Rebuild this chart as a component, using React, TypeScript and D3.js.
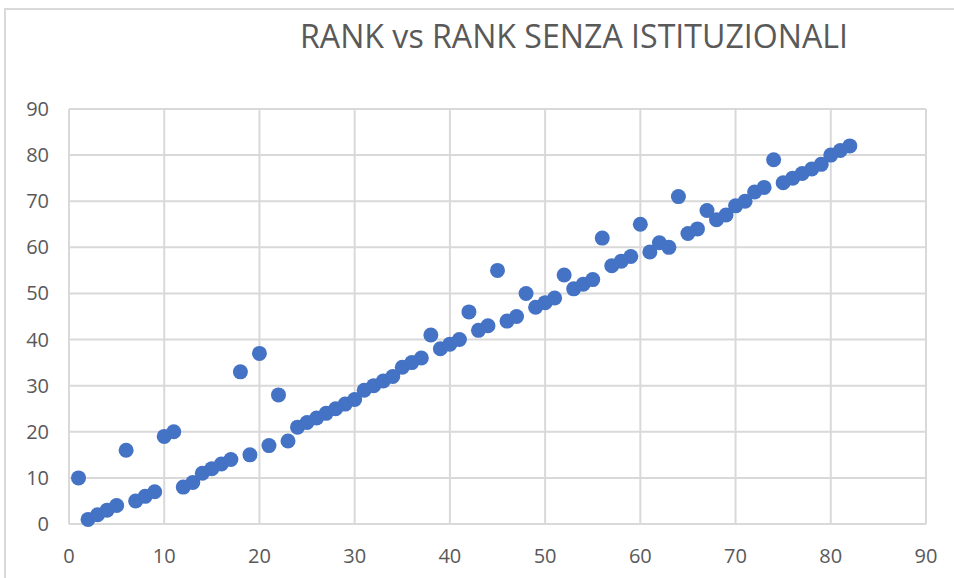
import { useEffect, useRef } from "react"
import * as d3 from "d3"

const title = "RANK vs RANK SENZA ISTITUZIONALI"

// rank (x) vs rank senza istituzionali (y)
const rankValues = [
    1, 2, 3, 4, 5, 6, 7, 8, 9, 10,
    11, 12, 13, 14, 15, 16, 17, 18, 19, 20,
    21, 22, 23, 24, 25, 26, 27, 28, 29, 30,
    31, 32, 33, 34, 35, 36, 37, 38, 39, 40,
    41, 42, 43, 44, 45, 46, 47, 48, 49, 50,
    51, 52, 53, 54, 55, 56, 57, 58, 59, 60,
    61, 62, 63, 64, 65, 66, 67, 68, 69, 70,
    71, 72, 73, 74, 75, 76, 77, 78, 79, 80,
    81, 82
]
const rankSenzaValues = [
    10, 1, 2, 3, 4, 16, 5, 6, 7, 19,
    20, 8, 9, 11, 12, 13, 14, 33, 15, 37,
    17, 28, 18, 21, 22, 23, 24, 25, 26, 27,
    29, 30, 31, 32, 34, 35, 36, 41, 38, 39,
    40, 46, 42, 43, 55, 44, 45, 50, 47, 48,
    49, 54, 51, 52, 53, 62, 56, 57, 58, 65,
    59, 61, 60, 71, 63, 64, 68, 66, 67, 69,
    70, 72, 73, 79, 74, 75, 76, 77, 78, 80,
    81, 82
]
const xTicks = [0, 10, 20, 30, 40, 50, 60, 70, 80, 90]
const yTicks = [0, 10, 20, 30, 40, 50, 60, 70, 80, 90]

export default function App() {
    const ref = useRef<SVGSVGElement | null>(null)

    useEffect(() => {
        const host = ref.current
        if (!host) return

        const width = 954
        const height = 578
        const plot = { left: 69, right: 926, top: 109, bottom: 524 }
        const gridColor = "#d9d9d9"
        const textColor = "#595959"
        const font = "'Open Sans', 'Segoe UI', sans-serif"

        const svg = d3.select(host)
        svg.selectAll("*").remove()

        svg.append("rect")
            .attr("width", width)
            .attr("height", height)
            .attr("fill", "#fff")

        // chart area border (only left and top visible in the crop)
        svg.append("path")
            .attr("d", `M5,${height} L5,9 L${width},9`)
            .attr("fill", "none")
            .attr("stroke", gridColor)
            .attr("stroke-width", 2)

        svg.append("text")
            .attr("x", 300)
            .attr("y", 48)
            .attr("font-family", font)
            .attr("font-size", 32)
            .attr("fill", textColor)
            .attr("textLength", 548)
            .attr("lengthAdjust", "spacingAndGlyphs")
            .text(title)

        const x = d3.scaleLinear().domain([0, 90]).range([plot.left, plot.right])
        const y = d3.scaleLinear().domain([0, 90]).range([plot.bottom, plot.top])

        const grid = svg.append("g")
            .attr("stroke", gridColor)
            .attr("stroke-width", 2)

        grid.selectAll("line.v")
            .data(xTicks)
            .join("line")
            .attr("class", "v")
            .attr("x1", d => x(d))
            .attr("x2", d => x(d))
            .attr("y1", plot.top)
            .attr("y2", plot.bottom)

        grid.selectAll("line.h")
            .data(yTicks)
            .join("line")
            .attr("class", "h")
            .attr("x1", plot.left)
            .attr("x2", plot.right)
            .attr("y1", d => y(d))
            .attr("y2", d => y(d))

        svg.append("g")
            .selectAll("text")
            .data(yTicks)
            .join("text")
            .attr("x", 49)
            .attr("y", d => y(d))
            .attr("dy", "0.35em")
            .attr("text-anchor", "end")
            .attr("font-family", font)
            .attr("font-size", 20)
            .attr("fill", textColor)
            .text(d => d)

        svg.append("g")
            .selectAll("text")
            .data(xTicks)
            .join("text")
            .attr("x", d => x(d))
            .attr("y", 556)
            .attr("dy", "0.35em")
            .attr("text-anchor", "middle")
            .attr("font-family", font)
            .attr("font-size", 20)
            .attr("fill", textColor)
            .text(d => d)

        const points = rankValues.map((r, i) => ({ x: r, y: rankSenzaValues[i] }))

        svg.append("g")
            .selectAll("circle")
            .data(points)
            .join("circle")
            .attr("cx", d => x(d.x))
            .attr("cy", d => y(d.y))
            .attr("r", 7.5)
            .attr("fill", "#4472c4")
    }, [])

    return (
        <svg
            ref={ref}
            width={954}
            height={578}
            style={{ position: "absolute", left: 0, top: 0, display: "block" }}
        />
    )
}
